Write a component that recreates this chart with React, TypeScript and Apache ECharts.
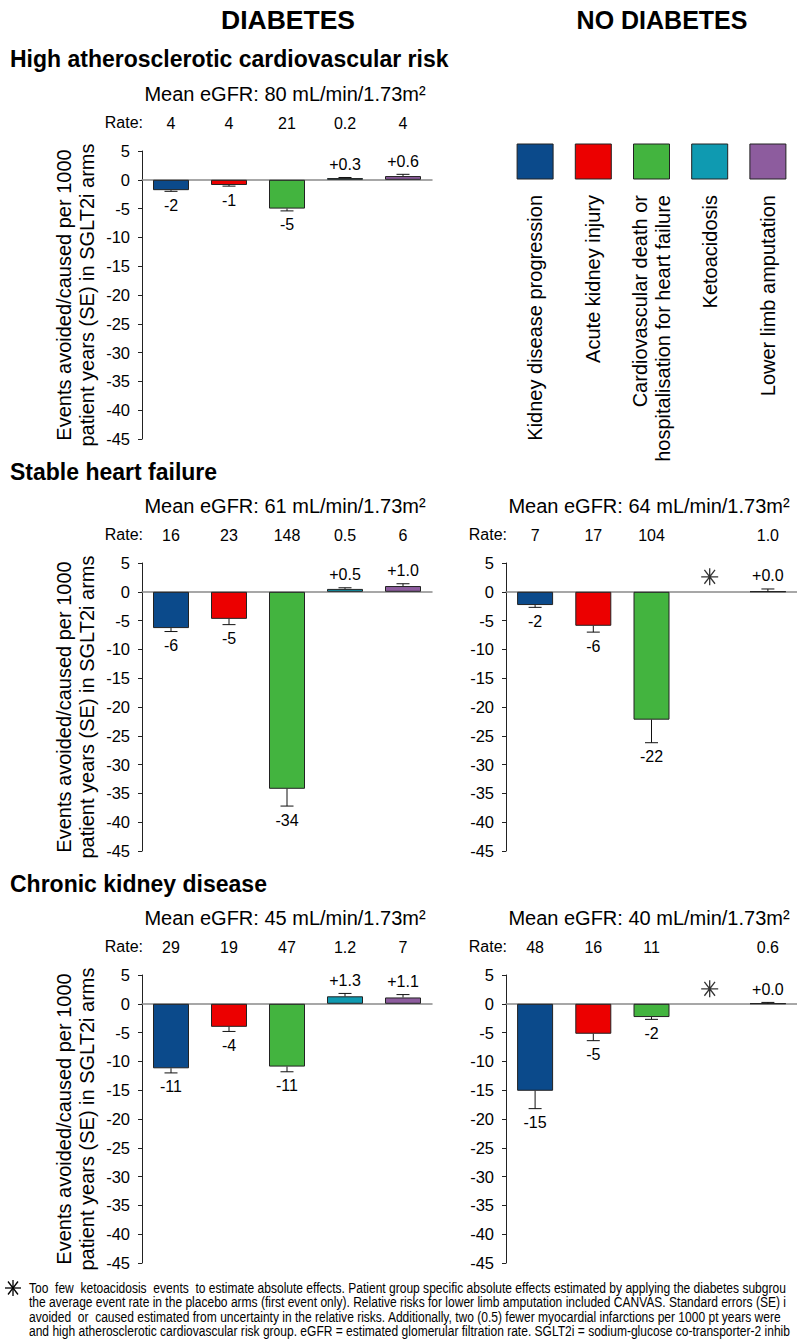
import React, { useEffect, useRef } from "react";
import * as echarts from "echarts";

const FONT = "'Liberation Sans', Arial, Helvetica, sans-serif";

const categories = [
  "Kidney disease progression",
  "Acute kidney injury",
  "Cardiovascular death or\nhospitalisation for heart failure",
  "Ketoacidosis",
  "Lower limb amputation",
];
const colors = ["#0B4A8B", "#EC0000", "#43B43F", "#0F9AB1", "#8D5C9E"];

// Diabetes – high atherosclerotic cardiovascular risk
const diabHighRiskValues = [-1.8, -0.9, -5.0, 0.3, 0.65];
const diabHighRiskSE = [0.2, 0.2, 0.4, 0.1, 0.3];
const diabHighRiskLabels = ["-2", "-1", "-5", "+0.3", "+0.6"];
const diabHighRiskRates = ["4", "4", "21", "0.2", "4"];

// Diabetes – stable heart failure
const diabHFValues = [-6.3, -4.7, -34.2, 0.5, 1.0];
const diabHFSE = [0.6, 1.0, 3.0, 0.2, 0.4];
const diabHFLabels = ["-6", "-5", "-34", "+0.5", "+1.0"];
const diabHFRates = ["16", "23", "148", "0.5", "6"];

// No diabetes – stable heart failure
const noDiabHFValues = [-2.3, -5.9, -22.2, null, 0.04];
const noDiabHFSE = [0.4, 1.1, 4.0, null, 0.45];
const noDiabHFLabels = ["-2", "-6", "-22", "", "+0.0"];
const noDiabHFRates = ["7", "17", "104", "", "1.0"];

// Diabetes – chronic kidney disease
const diabCKDValues = [-11.2, -4.0, -10.9, 1.3, 1.1];
const diabCKDSE = [0.8, 0.8, 0.9, 0.5, 0.5];
const diabCKDLabels = ["-11", "-4", "-11", "+1.3", "+1.1"];
const diabCKDRates = ["29", "19", "47", "1.2", "7"];

// No diabetes – chronic kidney disease
const noDiabCKDValues = [-15.1, -5.2, -2.3, null, 0.04];
const noDiabCKDSE = [3.1, 1.2, 0.4, null, 0.2];
const noDiabCKDLabels = ["-15", "-5", "-2", "", "+0.0"];
const noDiabCKDRates = ["48", "16", "11", "", "0.6"];

const asteriskValue = 2.6; // marker for "too few ketoacidosis events"

const yTicksMin = -45;
const yTicksMax = 5;
const yTicksStep = 5;

const yName = "Events avoided/caused per 1000\npatient years (SE) in SGLT2i arms";

const footnoteLines = [
  "Too  few  ketoacidosis  events  to estimate absolute effects. Patient group specific absolute effects estimated by applying the diabetes subgrou",
  "the average event rate in the placebo arms (first event only). Relative risks for lower limb amputation included CANVAS. Standard errors (SE) i",
  "avoided  or  caused estimated from uncertainty in the relative risks. Additionally, two (0.5) fewer myocardial infarctions per 1000 pt years were",
  "and high atherosclerotic cardiovascular risk group. eGFR = estimated glomerular filtration rate. SGLT2i = sodium-glucose co-transporter-2 inhib",
];

type Panel = {
  values: (number | null)[];
  se: (number | null)[];
  labels: string[];
  rates: string[];
  left: number;
  top: number;
  width: number;
  yName: boolean;
  eGFR: string;
  asterisk: boolean;
};

const LX = 142;
const RX = 506;
const PH = 288;

const panels: Panel[] = [
  { values: diabHighRiskValues, se: diabHighRiskSE, labels: diabHighRiskLabels, rates: diabHighRiskRates, left: LX, top: 151, width: 290, yName: true, eGFR: "Mean eGFR: 80 mL/min/1.73m²", asterisk: false },
  { values: diabHFValues, se: diabHFSE, labels: diabHFLabels, rates: diabHFRates, left: LX, top: 563, width: 290, yName: true, eGFR: "Mean eGFR: 61 mL/min/1.73m²", asterisk: false },
  { values: noDiabHFValues, se: noDiabHFSE, labels: noDiabHFLabels, rates: noDiabHFRates, left: RX, top: 563, width: 291, yName: false, eGFR: "Mean eGFR: 64 mL/min/1.73m²", asterisk: true },
  { values: diabCKDValues, se: diabCKDSE, labels: diabCKDLabels, rates: diabCKDRates, left: LX, top: 975, width: 290, yName: true, eGFR: "Mean eGFR: 45 mL/min/1.73m²", asterisk: false },
  { values: noDiabCKDValues, se: noDiabCKDSE, labels: noDiabCKDLabels, rates: noDiabCKDRates, left: RX, top: 975, width: 291, yName: false, eGFR: "Mean eGFR: 40 mL/min/1.73m²", asterisk: true },
];

const ASTERISK_PATH = "path://M8,0L8,16M0,8L16,8M3,1.5L13,14.5M13,1.5L3,14.5";

function buildOption() {
  const grid: any[] = [];
  const xAxis: any[] = [];
  const yAxis: any[] = [];
  const series: any[] = [];
  const graphic: any[] = [];

  panels.forEach((p, i) => {
    grid.push({ left: p.left, top: p.top, width: p.width, height: PH });
    xAxis.push({
      type: "category",
      gridIndex: i,
      data: categories,
      axisLine: { onZero: true, lineStyle: { color: "#8a8a8a", width: 1.5 } },
      axisTick: { show: false },
      axisLabel: { show: false },
      splitLine: { show: false },
    });
    xAxis.push({
      type: "category",
      gridIndex: i,
      position: "top",
      data: p.rates,
      axisLine: { show: false },
      axisTick: { show: false },
      axisLabel: { show: true, interval: 0, color: "#000", fontSize: 16, fontFamily: FONT, margin: 20 },
      splitLine: { show: false },
    });
    yAxis.push({
      type: "value",
      gridIndex: i,
      min: yTicksMin,
      max: yTicksMax,
      interval: yTicksStep,
      axisLine: { show: true, lineStyle: { color: "#222", width: 1 } },
      axisTick: { show: true, length: 4, lineStyle: { color: "#222" } },
      axisLabel: { color: "#000", fontSize: 16.5, fontFamily: FONT, margin: 12 },
      splitLine: { show: false },
      name: p.yName ? yName : "",
      nameLocation: "middle",
      nameGap: 44,
      nameRotate: 90,
      nameTextStyle: { color: "#000", fontSize: 20, lineHeight: 23, fontFamily: FONT },
    });

    series.push({
      type: "bar",
      xAxisIndex: 2 * i,
      yAxisIndex: i,
      barWidth: 36,
      data: p.values.map((v, j) => (v == null ? "-" : { value: v, itemStyle: { color: colors[j] } })),
      itemStyle: { borderColor: "#222", borderWidth: 1 },
      silent: true,
    });

    const errData: any[] = [];
    p.values.forEach((v, j) => {
      if (v != null) errData.push([j, v, p.se[j] as number]);
    });
    const labels = p.labels;
    series.push({
      type: "custom",
      xAxisIndex: 2 * i,
      yAxisIndex: i,
      data: errData,
      silent: true,
      z: 5,
      renderItem: (params: any, api: any) => {
        const j = api.value(0);
        const v = api.value(1);
        const s = api.value(2);
        const sign = v < 0 ? -1 : 1;
        const p0 = api.coord([j, v]);
        const p1 = api.coord([j, v + sign * s]);
        const half = 6.5;
        const lbl = labels[j];
        return {
          type: "group",
          children: [
            { type: "line", shape: { x1: p0[0], y1: p0[1], x2: p1[0], y2: p1[1] }, style: { stroke: "#111", lineWidth: 1 } },
            { type: "line", shape: { x1: p1[0] - half, y1: p1[1], x2: p1[0] + half, y2: p1[1] }, style: { stroke: "#111", lineWidth: 1 } },
            {
              type: "text",
              x: p1[0],
              y: p1[1] + (sign < 0 ? 6 : -5),
              style: {
                text: lbl,
                fill: "#000",
                fontSize: 16,
                fontFamily: FONT,
                align: "center",
                verticalAlign: sign < 0 ? "top" : "bottom",
              },
            },
          ],
        };
      },
    });

    if (p.asterisk) {
      series.push({
        type: "scatter",
        xAxisIndex: 2 * i,
        yAxisIndex: i,
        data: [[3, asteriskValue]],
        symbol: ASTERISK_PATH,
        symbolSize: [17, 17],
        itemStyle: { color: "#000", borderColor: "#000", borderWidth: 1.3 },
        silent: true,
        z: 6,
      });
    }

    // Mean eGFR title and "Rate:" label
    graphic.push({
      type: "text",
      x: p.left + 143,
      y: p.top - 57,
      style: { text: p.eGFR, fill: "#000", fontSize: 20, fontFamily: FONT, align: "center", verticalAlign: "middle" },
    });
    graphic.push({
      type: "text",
      x: p.left + 1,
      y: p.top - 29,
      style: { text: "Rate:", fill: "#000", fontSize: 16, fontFamily: FONT, align: "right", verticalAlign: "middle" },
    });
  });

  // Column titles
  graphic.push({ type: "text", x: 288, y: 20, style: { text: "DIABETES", fill: "#000", fontSize: 26.5, fontWeight: "bold", fontFamily: FONT, align: "center", verticalAlign: "middle" } });
  graphic.push({ type: "text", x: 662, y: 20, style: { text: "NO DIABETES", fill: "#000", fontSize: 25, fontWeight: "bold", fontFamily: FONT, align: "center", verticalAlign: "middle" } });

  // Section headings
  const headings: [string, number][] = [
    ["High atherosclerotic cardiovascular risk", 59],
    ["Stable heart failure", 472],
    ["Chronic kidney disease", 884],
  ];
  headings.forEach(([t, y]) => {
    graphic.push({ type: "text", x: 10, y, style: { text: t, fill: "#000", fontSize: 23, fontWeight: "bold", fontFamily: FONT, align: "left", verticalAlign: "middle" } });
  });

  // Legend (aligned with right-hand panel categories)
  const step = 291 / 5;
  categories.forEach((c, j) => {
    const cx = RX + step * (j + 0.5);
    graphic.push({
      type: "rect",
      shape: { x: cx - 18, y: 144, width: 36, height: 35 },
      style: { fill: colors[j], stroke: "#222", lineWidth: 1 },
    });
    graphic.push({
      type: "text",
      x: cx,
      y: 195,
      rotation: Math.PI / 2,
      style: { text: c, fill: "#000", fontSize: 20, lineHeight: 23, fontFamily: FONT, align: "right", verticalAlign: "middle" },
    });
  });

  // Footnote
  const ax = 13, ay = 1288;
  graphic.push({
    type: "group",
    x: ax,
    y: ay,
    children: [
      { type: "line", shape: { x1: 0, y1: -8, x2: 0, y2: 8 }, style: { stroke: "#000", lineWidth: 1.3 } },
      { type: "line", shape: { x1: -8, y1: 0, x2: 8, y2: 0 }, style: { stroke: "#000", lineWidth: 1.3 } },
      { type: "line", shape: { x1: -5, y1: -6.5, x2: 5, y2: 6.5 }, style: { stroke: "#000", lineWidth: 1.3 } },
      { type: "line", shape: { x1: 5, y1: -6.5, x2: -5, y2: 6.5 }, style: { stroke: "#000", lineWidth: 1.3 } },
    ],
  });
  footnoteLines.forEach((t, k) => {
    graphic.push({
      type: "text",
      x: 29,
      y: 1288 + k * 14.5,
      scaleX: 0.83,
      style: { text: t, fill: "#000", fontSize: 14.5, fontFamily: FONT, align: "left", verticalAlign: "middle" },
    });
  });

  return {
    animation: false,
    backgroundColor: "#fff",
    textStyle: { fontFamily: FONT },
    grid,
    xAxis,
    yAxis,
    series,
    graphic,
  };
}

export default function App() {
  const ref = useRef<HTMLDivElement>(null);
  useEffect(() => {
    if (!ref.current) return;
    const chart = echarts.init(ref.current, undefined, { renderer: "svg" });
    chart.setOption(buildOption() as any);
    return () => chart.dispose();
  }, []);
  return (
    <div
      ref={ref}
      style={{ position: "absolute", left: 0, top: 0, width: 797, height: 1341, background: "#fff", overflow: "hidden" }}
    />
  );
}
